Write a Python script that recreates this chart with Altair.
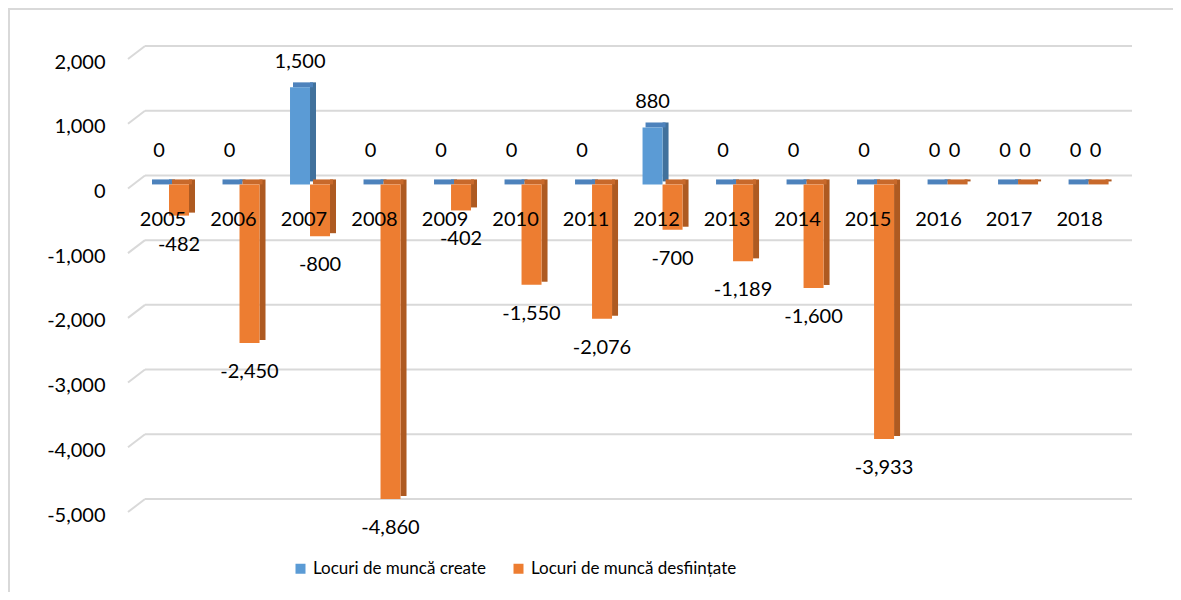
import altair as alt
import pandas as pd

years = [str(y) for y in range(2005, 2019)]
create = [0, 0, 1500, 0, 0, 0, 0, 880, 0, 0, 0, 0, 0, 0]
desf = [-482, -2450, -800, -4860, -402, -1550, -2076, -700, -1189, -1600, -3933, 0, 0, 0]
s_create = "Locuri de muncă create"
s_desf = "Locuri de muncă desființate"
grid_ticks = [-5000, -4000, -3000, -2000, -1000, 0, 1000, 2000]

rows = []
for i, y in enumerate(years):
    rows.append({"year": y, "series": s_create, "value": create[i]})
    rows.append({"year": y, "series": s_desf, "value": desf[i]})
df = pd.DataFrame(rows)
grid_df = pd.DataFrame({"g": grid_ticks})

FONT = "Lato"
BLUE, ORANGE = "#5b9bd5", "#ed7d31"
BLUE_SIDE, ORANGE_SIDE = "#41719c", "#ae5a21"
BLUE_TOP, ORANGE_TOP = "#4d82bc", "#c8692b"

W, H = 1004, 453
L, T = 120, 47

yscale = alt.Scale(domain=[-5000, 2000], nice=False, zero=False)
yaxis = alt.Axis(values=grid_ticks, grid=False, domain=False, ticks=False,
                 labelPadding=23, labelOffset=7, labelFont=FONT, labelFontSize=20,
                 labelColor="#000000", title=None,
                 labelExpr="replace(format(datum.value, ','), '\u2212', '-')")
xenc = alt.X("year:N", scale=alt.Scale(paddingInner=0, paddingOuter=0.12, align=0.34), axis=None)


def Y(field):
    return alt.Y(field, scale=yscale, axis=yaxis, title=None)


base = alt.Chart(df).transform_calculate(
    top="max(datum.value, 0)",
    bottom="min(datum.value, 0)",
    label="replace(format(datum.value, ','), '\u2212', '-')",
)

# gridlines
grid_flat = alt.Chart(grid_df).mark_rule(color="#d9d9d9", strokeWidth=2, yOffset=-9).encode(
    y=Y("g:Q"), x=alt.value(17), x2=alt.value(W),
)
grid_slant = alt.Chart(grid_df).mark_rule(color="#d9d9d9", strokeWidth=2, yOffset=4, y2Offset=-9).encode(
    y=Y("g:Q"), y2="g:Q", x=alt.value(0), x2=alt.value(17),
)

color = alt.Color("series:N", scale=alt.Scale(domain=[s_create, s_desf], range=[BLUE, ORANGE]),
                  legend=alt.Legend(title=None, orient="none", direction="horizontal",
                                    legendX=164, legendY=505, symbolType="square", symbolSize=100,
                                    symbolStrokeWidth=0, labelFont=FONT, labelFontSize=17,
                                    labelColor="#000000", columnPadding=24, labelOffset=4,
                                    labelLimit=500))

layers = [grid_flat, grid_slant]
for s, off, cside, ctop in [(s_create, -10, BLUE_SIDE, BLUE_TOP), (s_desf, 10, ORANGE_SIDE, ORANGE_TOP)]:
    sub = base.transform_filter(alt.datum.series == s)
    side = sub.mark_bar(width=6, xOffset=off + 13, yOffset=-5, y2Offset=-3, color=cside).encode(
        x=xenc, y=Y("top:Q"), y2="bottom:Q")
    topf = sub.mark_bar(width=20, xOffset=off + 3, yOffset=-5, y2Offset=0, color=ctop).encode(
        x=xenc, y=Y("top:Q"), y2="top:Q")
    front = sub.mark_bar(width=20, xOffset=off).encode(
        x=xenc, y=Y("top:Q"), y2="bottom:Q", color=color)
    layers += [side, topf, front]

txt = dict(font=FONT, fontSize=20, color="#000000", baseline="middle", align="center")
lab_specs = [
    (s_create, "datum.value > 0", -10, -25),
    (s_create, "datum.value == 0", -10, -33),
    (s_desf, "datum.value < 0", 10, 29),
    (s_desf, "datum.value == 0", 10, -33),
]
for s, cond, off, dy in lab_specs:
    layers.append(
        base.transform_filter(alt.datum.series == s).transform_filter(cond)
        .mark_text(xOffset=off, dy=dy, **txt)
        .encode(x=xenc, y=Y("value:Q"), text="label:N")
    )

cat = base.transform_filter(alt.datum.series == s_create).transform_calculate(zero="0").mark_text(
    dy=36, dx=-6, **txt).encode(x=xenc, y=Y("zero:Q"), text="year:N")
layers.append(cat)

frame = alt.Chart(pd.DataFrame({"a": [0]})).mark_rect(filled=False, stroke="#d9d9d9", strokeWidth=2).encode(
    x=alt.value(-L + 1), x2=alt.value(W + 300), y=alt.value(-T + 1), y2=alt.value(H + 300))
layers.append(frame)

chart = alt.layer(*layers).properties(
    width=W, height=H, autosize="none",
    padding={"left": L, "top": T, "right": 1165 - L - W, "bottom": 584 - T - H},
).configure(font=FONT).configure_view(stroke=None)

chart.save("out.html", embed_options={"renderer": "svg", "actions": False})
